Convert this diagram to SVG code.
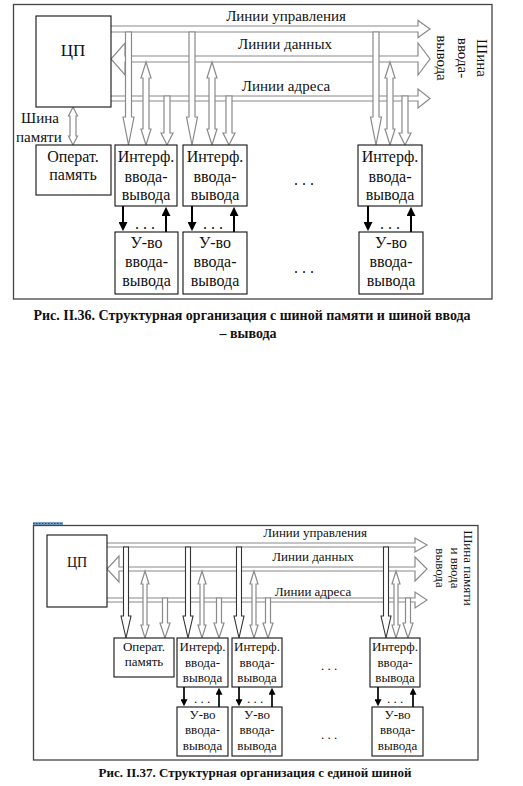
<svg xmlns="http://www.w3.org/2000/svg" width="523" height="786" viewBox="0 0 523 786" font-family="'Liberation Serif', 'Times New Roman', serif">
<defs>
<style>
.frame{fill:none;stroke:#444;stroke-width:1.3}
.box{fill:#fff;stroke:#111;stroke-width:1.1}
.bus{fill:#fff;stroke:#8a8a8a;stroke-width:1.2}
.stemd{fill:#fff;stroke:#333;stroke-width:1.1}
.blk{stroke:#000;stroke-width:2;fill:none}
.blk2{stroke:#000;stroke-width:1.7;fill:none}
text{fill:#111;font-family:'Liberation Serif','Times New Roman',serif}
.t16{font-size:16px;text-anchor:middle}
.t13{font-size:13px;text-anchor:middle}
.lab15{font-size:15px;text-anchor:middle}
.cap{font-weight:bold;text-anchor:middle}
</style>
<marker id="ah" viewBox="0 0 10 10" refX="1" refY="5" markerUnits="userSpaceOnUse" markerWidth="9" markerHeight="9" orient="auto">
<path d="M0,0 L10,5 L0,10 Z" fill="#000"/>
</marker>
<marker id="ah2" viewBox="0 0 10 10" refX="1" refY="5" markerUnits="userSpaceOnUse" markerWidth="7" markerHeight="7" orient="auto">
<path d="M0,0 L10,5 L0,10 Z" fill="#000"/>
</marker>
</defs>

<!-- ============ Figure II.36 ============ -->
<rect class="frame" x="13.5" y="4.5" width="478.5" height="294.5"/>

<g id="connectors1">
<path class="bus" d="M111,26 H418 V20.5 L430,29 L418,37.5 V32 H111"/>
<path class="bus" d="M125,56 H418 V43 L430,59 L418,75 V62 H125 V75 L111,59 L125,43 Z"/>
<path class="bus" d="M111,96 H418 V89 L430,98.5 L418,108 V101 H111"/>
<path class="bus" d="M125.5,32 V117 H123 L128.5,145 L134,117 H131.5 V32 Z"/>
<path class="bus" d="M146,62 L151,78 H149 V129 H151 L146,145 L141,129 H143 V78 H141 Z"/>
<path class="bus" d="M164,96 V133 H161 L167,145 L173,133 H170 V96 Z"/>
<path class="bus" d="M189,32 V117 H186.5 L192,145 L197.5,117 H195 V32 Z"/>
<path class="bus" d="M212,62 L217,78 H215 V129 H217 L212,145 L207,129 H209 V78 H207 Z"/>
<path class="bus" d="M226,96 V133 H223 L229,145 L235,133 H232 V96 Z"/>
<path class="bus" d="M373,32 V117 H370.5 L376,145 L381.5,117 H379 V32 Z"/>
<path class="bus" d="M390,62 L395,78 H393 V129 H395 L390,145 L385,129 H387 V78 H385 Z"/>
<path class="bus" d="M402,96 V133 H399 L405,145 L411,133 H408 V96 Z"/>
<path class="bus" d="M73,107 L77.5,116 H76 V136 H77.5 L73,145 L68.5,136 H70 V116 H68.5 Z"/>
<line class="blk" x1="123" y1="206" x2="123" y2="223" marker-end="url(#ah)"/>
<line class="blk" x1="166" y1="232" x2="166" y2="215" marker-end="url(#ah)"/>
<line class="blk" x1="192" y1="206" x2="192" y2="223" marker-end="url(#ah)"/>
<line class="blk" x1="234" y1="232" x2="234" y2="215" marker-end="url(#ah)"/>
<line class="blk" x1="368" y1="206" x2="368" y2="223" marker-end="url(#ah)"/>
<line class="blk" x1="411" y1="232" x2="411" y2="215" marker-end="url(#ah)"/>
</g>

<text class="lab15" x="286" y="21">Линии управления</text>
<text class="lab15" x="285" y="49">Линии данных</text>
<text class="lab15" x="286" y="91">Линии адреса</text>
<text class="lab15" transform="translate(477,58) rotate(90)">Шина</text>
<text class="lab15" transform="translate(458,58) rotate(90)">ввода-</text>
<text class="lab15" transform="translate(437,58) rotate(90)">вывода</text>
<text style="font-size:15px" x="21" y="123">Шина</text>
<text style="font-size:15px" x="16" y="142">памяти</text>

<g id="cpu1"><rect class="box" x="36" y="16" width="75" height="91"/><text class="t16" x="73" y="56" style="font-size:17px">ЦП</text></g>
<g id="mem1"><rect class="box" x="36" y="145" width="75" height="50"/><text class="t16" x="73" y="162">Операт.</text><text class="t16" x="73" y="180">память</text></g>
<g id="if1"><rect class="box" x="115" y="145" width="62" height="61"/><text class="t16" x="146" y="162">Интерф.</text><text class="t16" x="146" y="182">ввода-</text><text class="t16" x="146" y="200">вывода</text></g>
<g id="if2"><rect class="box" x="183" y="145" width="64" height="61"/><text class="t16" x="215" y="162">Интерф.</text><text class="t16" x="215" y="182">ввода-</text><text class="t16" x="215" y="200">вывода</text></g>
<g id="if3"><rect class="box" x="358" y="145" width="64" height="61"/><text class="t16" x="390" y="162">Интерф.</text><text class="t16" x="390" y="182">ввода-</text><text class="t16" x="390" y="200">вывода</text></g>
<g id="dev1"><rect class="box" x="115" y="232" width="63" height="62"/><text class="t16" x="146.5" y="248">У-во</text><text class="t16" x="146.5" y="267">ввода-</text><text class="t16" x="146.5" y="286">вывода</text></g>
<g id="dev2"><rect class="box" x="183" y="232" width="64" height="62"/><text class="t16" x="215" y="248">У-во</text><text class="t16" x="215" y="267">ввода-</text><text class="t16" x="215" y="286">вывода</text></g>
<g id="dev3"><rect class="box" x="359" y="232" width="64" height="62"/><text class="t16" x="391" y="248">У-во</text><text class="t16" x="391" y="267">ввода-</text><text class="t16" x="391" y="286">вывода</text></g>

<text class="t16" x="145" y="229">. . .</text>
<text class="t16" x="213" y="229">. . .</text>
<text class="t16" x="390" y="229">. . .</text>
<text class="t16" x="304" y="185">. . .</text>
<text class="t16" x="304" y="273">. . .</text>

<text class="cap" style="font-size:14px" x="252" y="320">Рис. II.36. Структурная организация с шиной памяти и шиной ввода</text>
<text class="cap" style="font-size:14px" x="248" y="338">– вывода</text>

<!-- ============ Figure II.37 ============ -->
<line x1="33" y1="523.5" x2="63" y2="523.5" stroke="#7aa0c8" stroke-width="3"/>
<line x1="33" y1="523.5" x2="63" y2="523.5" stroke="#2d4f7a" stroke-width="1" stroke-dasharray="1.5 1.5"/>
<rect class="frame" x="33.5" y="525.5" width="444.5" height="234.5"/>

<g id="connectors2">
<path class="bus" d="M107,543 H415 V538 L427,545 L415,552 V547 H107"/>
<path class="bus" d="M119,567 H415 V557 L427,569 L415,581 V571 H119 V582 L107,569 L119,556 Z"/>
<path class="bus" d="M107,598 H415 V592 L427,600 L415,608 V602 H107"/>
<path class="stemd" d="M123.5,547 V616 H121 L126,638 L131,616 H128.5 V547 Z"/>
<path class="bus" d="M145,571 L149,584 H147 V625 H149 L145,638 L141,625 H143 V584 H141 Z"/>
<path class="bus" d="M162.5,598 V623 H160 L165,638 L170,623 H167.5 V598 Z"/>
<path class="stemd" d="M185.5,547 V616 H183 L188,638 L193,616 H190.5 V547 Z"/>
<path class="bus" d="M202,571 L206,584 H204 V625 H206 L202,638 L198,625 H200 V584 H198 Z"/>
<path class="bus" d="M216.5,598 V623 H214 L219,638 L224,623 H221.5 V598 Z"/>
<path class="stemd" d="M236.5,547 V616 H234 L239,638 L244,616 H241.5 V547 Z"/>
<path class="bus" d="M254,571 L258,584 H256 V625 H258 L254,638 L250,625 H252 V584 H250 Z"/>
<path class="bus" d="M265.5,598 V623 H263 L268,638 L273,623 H270.5 V598 Z"/>
<path class="stemd" d="M383.5,547 V616 H381 L386,638 L391,616 H388.5 V547 Z"/>
<path class="bus" d="M396,571 L400,584 H398 V625 H400 L396,638 L392,625 H394 V584 H392 Z"/>
<path class="bus" d="M405.5,598 V623 H403 L408,638 L413,623 H410.5 V598 Z"/>
<line class="blk2" x1="184" y1="687" x2="184" y2="700" marker-end="url(#ah2)"/>
<line class="blk2" x1="219" y1="707" x2="219" y2="694" marker-end="url(#ah2)"/>
<line class="blk2" x1="239" y1="687" x2="239" y2="700" marker-end="url(#ah2)"/>
<line class="blk2" x1="272" y1="707" x2="272" y2="694" marker-end="url(#ah2)"/>
<line class="blk2" x1="378" y1="687" x2="378" y2="700" marker-end="url(#ah2)"/>
<line class="blk2" x1="413" y1="707" x2="413" y2="694" marker-end="url(#ah2)"/>
</g>

<text class="t13" x="315" y="537">Линии управления</text>
<text class="t13" x="313" y="561">Линии данных</text>
<text class="t13" x="313" y="596">Линии адреса</text>
<text class="t13" transform="translate(464,568) rotate(90)">Шина памяти</text>
<text class="t13" transform="translate(451,568) rotate(90)">и ввода</text>
<text class="t13" transform="translate(436,568) rotate(90)">вывода</text>

<g id="cpu2"><rect class="box" x="47" y="535" width="60" height="72"/><text class="t13" x="77" y="567" style="font-size:14px">ЦП</text></g>
<g id="mem2"><rect class="box" x="114" y="638" width="60" height="39"/><text class="t13" x="144" y="651">Операт.</text><text class="t13" x="144" y="666">память</text></g>
<g id="if21"><rect class="box" x="177" y="638" width="51" height="49"/><text class="t13" x="202.5" y="651">Интерф.</text><text class="t13" x="202.5" y="667">ввода-</text><text class="t13" x="202.5" y="682">вывода</text></g>
<g id="if22"><rect class="box" x="232" y="638" width="50" height="49"/><text class="t13" x="257" y="651">Интерф.</text><text class="t13" x="257" y="667">ввода-</text><text class="t13" x="257" y="682">вывода</text></g>
<g id="if23"><rect class="box" x="370" y="638" width="50" height="49"/><text class="t13" x="395" y="651">Интерф.</text><text class="t13" x="395" y="667">ввода-</text><text class="t13" x="395" y="682">вывода</text></g>
<g id="dev21"><rect class="box" x="177" y="707" width="51" height="49"/><text class="t13" x="202.5" y="719">У-во</text><text class="t13" x="202.5" y="734">ввода-</text><text class="t13" x="202.5" y="750">вывода</text></g>
<g id="dev22"><rect class="box" x="232" y="707" width="50" height="49"/><text class="t13" x="257" y="719">У-во</text><text class="t13" x="257" y="734">ввода-</text><text class="t13" x="257" y="750">вывода</text></g>
<g id="dev23"><rect class="box" x="372" y="707" width="51" height="49"/><text class="t13" x="397.5" y="719">У-во</text><text class="t13" x="397.5" y="734">ввода-</text><text class="t13" x="397.5" y="750">вывода</text></g>

<text class="t13" x="202" y="703">. . .</text>
<text class="t13" x="255" y="703">. . .</text>
<text class="t13" x="395" y="703">. . .</text>
<text class="t13" x="329" y="670">. . .</text>
<text class="t13" x="329" y="739">. . .</text>

<text class="cap" style="font-size:13px" x="255" y="777">Рис. II.37. Структурная организация с единой шиной</text>
</svg>
